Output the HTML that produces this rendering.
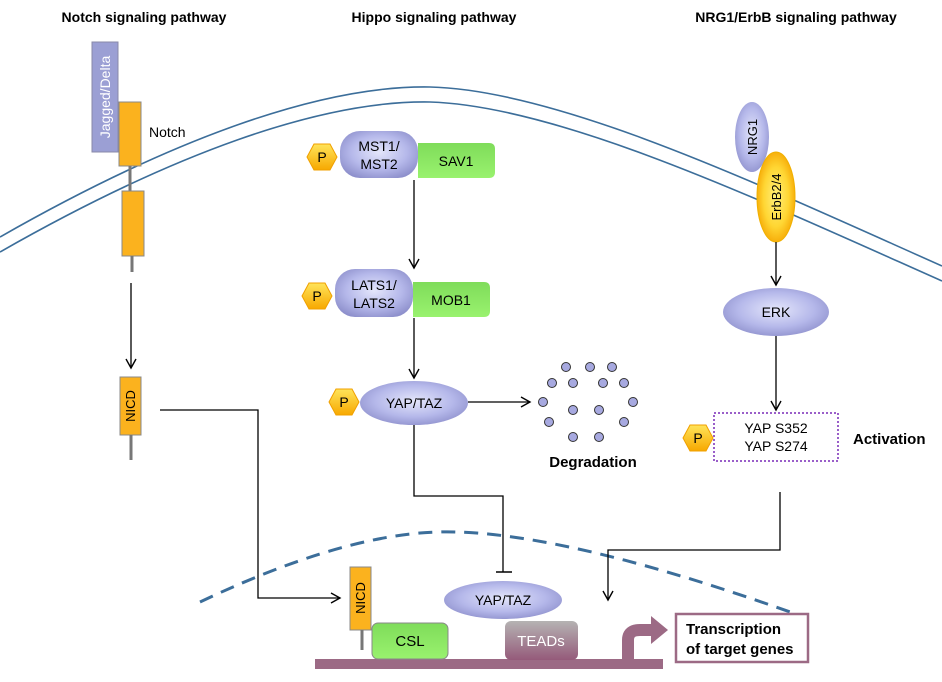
<!DOCTYPE html>
<html><head><meta charset="utf-8"><style>
html,body{margin:0;padding:0;background:#fff}
svg{display:block;font-family:"Liberation Sans",Arial,sans-serif}
</style></head><body>
<svg width="942" height="682" viewBox="0 0 942 682" xmlns="http://www.w3.org/2000/svg">
<defs>
<radialGradient id="pur" cx="50%" cy="45%" r="60%"><stop offset="0" stop-color="#e4e6fb"/><stop offset="0.6" stop-color="#b5b8ea"/><stop offset="1" stop-color="#8e90cc"/></radialGradient>
<linearGradient id="grn" x1="0" y1="0" x2="0" y2="1"><stop offset="0" stop-color="#7fdc5a"/><stop offset="1" stop-color="#99f26e"/></linearGradient>
<radialGradient id="yel" cx="50%" cy="50%" r="55%"><stop offset="0" stop-color="#fff07a"/><stop offset="0.6" stop-color="#ffd633"/><stop offset="1" stop-color="#f5a400"/></radialGradient>
<linearGradient id="hex" x1="0" y1="0" x2="0" y2="1"><stop offset="0" stop-color="#ffe45a"/><stop offset="1" stop-color="#f7a800"/></linearGradient>
<linearGradient id="tead" x1="0" y1="0" x2="0" y2="1"><stop offset="0" stop-color="#b5b3b3"/><stop offset="1" stop-color="#955a7a"/></linearGradient>
<marker id="ar" markerWidth="12" markerHeight="12" refX="10" refY="6" orient="auto" markerUnits="userSpaceOnUse"><path d="M1,1 L10,6 L1,11" fill="none" stroke="#000" stroke-width="1.4"/></marker>
<g id="P"><polygon points="-15,0 -8,-13 8,-13 15,0 8,13 -8,13" fill="url(#hex)" stroke="#f0a000" stroke-width="1"/><text x="0" y="5" text-anchor="middle" font-size="14">P</text></g>
</defs>

<text x="144" y="22" text-anchor="middle" font-size="14" font-weight="bold">Notch signaling pathway</text>
<text x="434" y="22" text-anchor="middle" font-size="14" font-weight="bold">Hippo signaling pathway</text>
<text x="796" y="22" text-anchor="middle" font-size="14" font-weight="bold">NRG1/ErbB signaling pathway</text>

<path d="M0,237 C170,140 320,85 430,87 C560,90 760,185 942,266" fill="none" stroke="#3c6e9a" stroke-width="1.6"/>
<path d="M0,252 C170,155 320,100 430,102 C560,106 760,200 942,281" fill="none" stroke="#3c6e9a" stroke-width="1.6"/>
<path d="M200,602 C320,545 400,530 457,532 C560,535 700,580 793,613" fill="none" stroke="#3c6e9a" stroke-width="3" stroke-dasharray="14,9"/>

<rect x="92" y="42" width="26" height="110" fill="#9b9fd4" stroke="#8a8aa8"/>
<text transform="translate(110,97) rotate(-90)" text-anchor="middle" font-size="14" fill="#fff">Jagged/Delta</text>
<rect x="119" y="102" width="22" height="64" fill="#fbb21e" stroke="#888"/>
<line x1="130" y1="166" x2="130" y2="191" stroke="#777" stroke-width="3"/>
<rect x="122" y="191" width="22" height="65" fill="#fbb21e" stroke="#888"/>
<line x1="132" y1="256" x2="132" y2="272" stroke="#777" stroke-width="3"/>
<text x="149" y="137" font-size="14">Notch</text>
<line x1="131" y1="283" x2="131" y2="368" stroke="#000" stroke-width="1.3" marker-end="url(#ar)"/>
<rect x="120" y="377" width="21" height="58" fill="#fbb21e" stroke="#888"/>
<text transform="translate(135,406) rotate(-90)" text-anchor="middle" font-size="13">NICD</text>
<line x1="131" y1="435" x2="131" y2="460" stroke="#777" stroke-width="3"/>
<polyline points="160,410 258,410 258,598 340,598" fill="none" stroke="#000" stroke-width="1.3" marker-end="url(#ar)"/>

<path d="M418,143 H489 Q495,143 495,149 V172 Q495,178 489,178 H418 Z" fill="url(#grn)"/>
<text x="456" y="166" text-anchor="middle" font-size="14">SAV1</text>
<rect x="340" y="131" width="78" height="47" rx="20" fill="url(#pur)"/>
<text x="379" y="151" text-anchor="middle" font-size="14">MST1/</text>
<text x="379" y="169" text-anchor="middle" font-size="14">MST2</text>
<use href="#P" x="322" y="157"/>
<line x1="414" y1="180" x2="414" y2="268" stroke="#000" stroke-width="1.3" marker-end="url(#ar)"/>
<path d="M413,282 H484 Q490,282 490,288 V311 Q490,317 484,317 H413 Z" fill="url(#grn)"/>
<text x="451" y="305" text-anchor="middle" font-size="14">MOB1</text>
<rect x="335" y="269" width="78" height="48" rx="20" fill="url(#pur)"/>
<text x="374" y="290" text-anchor="middle" font-size="14">LATS1/</text>
<text x="374" y="308" text-anchor="middle" font-size="14">LATS2</text>
<use href="#P" x="317" y="296"/>
<line x1="414" y1="318" x2="414" y2="378" stroke="#000" stroke-width="1.3" marker-end="url(#ar)"/>
<ellipse cx="414" cy="403" rx="54" ry="22" fill="url(#pur)"/>
<text x="414" y="408" text-anchor="middle" font-size="14">YAP/TAZ</text>
<use href="#P" x="344" y="402"/>
<line x1="468" y1="402" x2="530" y2="402" stroke="#000" stroke-width="1.3" marker-end="url(#ar)"/>
<g fill="#a7a9e0" stroke="#333" stroke-width="1">
<circle cx="566" cy="367" r="4.5"/><circle cx="590" cy="367" r="4.5"/><circle cx="612" cy="367" r="4.5"/>
<circle cx="552" cy="383" r="4.5"/><circle cx="573" cy="383" r="4.5"/><circle cx="603" cy="383" r="4.5"/><circle cx="624" cy="383" r="4.5"/>
<circle cx="543" cy="402" r="4.5"/><circle cx="633" cy="402" r="4.5"/>
<circle cx="573" cy="410" r="4.5"/><circle cx="599" cy="410" r="4.5"/>
<circle cx="549" cy="422" r="4.5"/><circle cx="624" cy="422" r="4.5"/>
<circle cx="573" cy="437" r="4.5"/><circle cx="599" cy="437" r="4.5"/>
</g>
<text x="593" y="467" text-anchor="middle" font-size="15" font-weight="bold">Degradation</text>
<polyline points="414,425 414,496 503,496 503,572" fill="none" stroke="#000" stroke-width="1.3"/>
<line x1="496" y1="572" x2="512" y2="572" stroke="#000" stroke-width="1.5"/>

<ellipse cx="752" cy="137" rx="17" ry="35" fill="url(#pur)"/>
<text transform="translate(757,137) rotate(-90)" text-anchor="middle" font-size="13">NRG1</text>
<ellipse cx="776" cy="197" rx="19" ry="45" fill="url(#yel)" stroke="#f0b000"/>
<text transform="translate(781,197) rotate(-90)" text-anchor="middle" font-size="13">ErbB2/4</text>
<line x1="776" y1="242" x2="776" y2="285" stroke="#000" stroke-width="1.3" marker-end="url(#ar)"/>
<ellipse cx="776" cy="312" rx="53" ry="24" fill="url(#pur)"/>
<text x="776" y="317" text-anchor="middle" font-size="14">ERK</text>
<line x1="776" y1="336" x2="776" y2="410" stroke="#000" stroke-width="1.3" marker-end="url(#ar)"/>
<rect x="714" y="413" width="124" height="48" fill="#fff" stroke="#9a5fc9" stroke-width="2" stroke-dasharray="2,2"/>
<text x="776" y="433" text-anchor="middle" font-size="14">YAP S352</text>
<text x="776" y="451" text-anchor="middle" font-size="14">YAP S274</text>
<use href="#P" x="698" y="438"/>
<text x="853" y="444" font-size="15" font-weight="bold">Activation</text>
<polyline points="780,492 780,550 608,550 608,600" fill="none" stroke="#000" stroke-width="1.3" marker-end="url(#ar)"/>

<rect x="315" y="659" width="348" height="10" fill="#9c6a85"/>
<rect x="372" y="623" width="76" height="36" rx="6" fill="url(#grn)" stroke="#888"/>
<text x="410" y="646" text-anchor="middle" font-size="15">CSL</text>
<rect x="350" y="567" width="21" height="63" fill="#fbb21e" stroke="#888"/>
<text transform="translate(365,598) rotate(-90)" text-anchor="middle" font-size="13">NICD</text>
<line x1="362" y1="630" x2="362" y2="650" stroke="#777" stroke-width="3"/>
<rect x="505" y="621" width="73" height="39" rx="6" fill="url(#tead)"/>
<text x="541" y="646" text-anchor="middle" font-size="15" fill="#fff">TEADs</text>
<ellipse cx="503" cy="600" rx="59" ry="19" fill="url(#pur)"/>
<text x="503" y="605" text-anchor="middle" font-size="14">YAP/TAZ</text>
<path d="M628,659 L628,640 Q628,630 640,630 L652,630" fill="none" stroke="#9c6a85" stroke-width="12"/>
<polygon points="651,616 668,630 651,644" fill="#9c6a85"/>
<rect x="676" y="614" width="132" height="48" fill="#fff" stroke="#9c6a85" stroke-width="2.5"/>
<text x="686" y="634" font-size="15" font-weight="bold">Transcription</text>
<text x="686" y="654" font-size="15" font-weight="bold">of target genes</text>
</svg>
</body></html>
